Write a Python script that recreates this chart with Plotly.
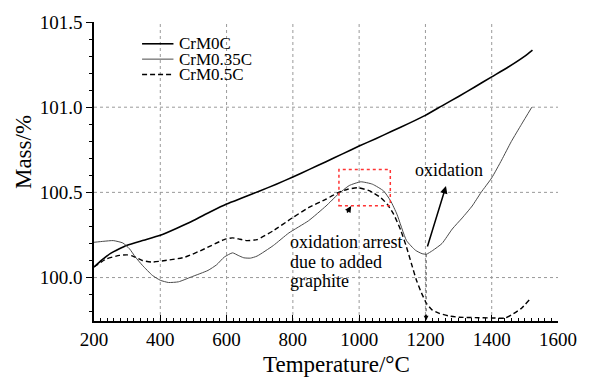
import plotly.graph_objects as go

# ---- data ----
t_0c = [200, 225, 250, 275, 300, 350, 400, 450, 500, 550, 600, 650, 700, 750, 800, 850,
        900, 950, 1000, 1050, 1100, 1150, 1200, 1250, 1300, 1350, 1400, 1450, 1500, 1523]
m_0c = [100.062, 100.105, 100.142, 100.168, 100.19, 100.219, 100.248, 100.29, 100.335,
        100.385, 100.432, 100.47, 100.508, 100.548, 100.59, 100.635, 100.68, 100.726,
        100.772, 100.815, 100.86, 100.905, 100.952, 101.008, 101.063, 101.12, 101.178,
        101.236, 101.3, 101.335]

t_035c = [200, 230, 258, 287, 307, 325, 346, 376, 400, 425, 455, 494, 544, 570, 593, 618,
          635, 652, 672, 692, 741, 788, 847, 900, 936, 970, 1005, 1040, 1074, 1095, 1114,
          1143, 1170, 1190, 1203, 1222, 1250, 1281, 1311, 1341, 1368, 1400, 1430, 1459,
          1490, 1521]
m_035c = [100.207, 100.213, 100.217, 100.203, 100.169, 100.12, 100.072, 100.013, 99.984,
          99.971, 99.975, 100.004, 100.042, 100.075, 100.12, 100.145, 100.13, 100.116,
          100.114, 100.126, 100.188, 100.262, 100.333, 100.42, 100.488, 100.54, 100.562,
          100.548, 100.508, 100.45, 100.372, 100.217, 100.16, 100.14, 100.137, 100.159,
          100.2, 100.285, 100.35, 100.42, 100.5, 100.585, 100.69, 100.798, 100.9, 101.0]

t_05c = [200, 238, 277, 300, 317, 346, 376, 415, 475, 534, 593, 618, 640, 662, 692, 741,
         798, 847, 900, 936, 965, 996, 1030, 1065, 1085, 1104, 1125, 1143, 1158, 1173,
         1188, 1203, 1220, 1242, 1270, 1301, 1350, 1400, 1439, 1459, 1490, 1513]
m_05c = [100.062, 100.11, 100.13, 100.133, 100.126, 100.1, 100.091, 100.1, 100.12, 100.169,
         100.223, 100.233, 100.225, 100.217, 100.223, 100.275, 100.35, 100.41, 100.46,
         100.498, 100.518, 100.527, 100.51, 100.469, 100.43, 100.372, 100.28, 100.178,
         100.08, 99.984, 99.91, 99.849, 99.81, 99.79, 99.775, 99.767, 99.765, 99.763,
         99.762, 99.78, 99.82, 99.868]

series_names = ["CrM0C", "CrM0.35C", "CrM0.5C"]
x_ticks = [200, 400, 600, 800, 1000, 1200, 1400, 1600]
y_ticks = [100.0, 100.5, 101.0, 101.5]
x_range = [200, 1600]
y_range = [99.745, 101.5]
box_t = [939, 1094]
box_m = [100.422, 100.634]

FONT = "Liberation Serif, Times New Roman, serif"
styles = [dict(color="black", width=1.6, dash="solid"),
          dict(color="#4a4a4a", width=1.0, dash="solid"),
          dict(color="black", width=1.4, dash="5px,3px")]

fig = go.Figure()
for (tx, my), name, st in zip([(t_0c, m_0c), (t_035c, m_035c), (t_05c, m_05c)],
                              series_names, styles):
    fig.add_trace(go.Scatter(x=tx, y=my, mode="lines", name=name,
                             line=dict(**st, shape="spline", smoothing=0.5),
                             showlegend=False))

shapes = []
# dotted grid (inner ticks only)
for xv in x_ticks[1:-1]:
    shapes.append(dict(type="line", xref="x", yref="y", x0=xv, x1=xv,
                       y0=y_range[0], y1=y_range[1], layer="below",
                       line=dict(color="#9a9a9a", width=1, dash="dot")))
for yv in y_ticks[:-1]:
    shapes.append(dict(type="line", xref="x", yref="y", x0=x_range[0], x1=x_range[1],
                       y0=yv, y1=yv, layer="below",
                       line=dict(color="#9a9a9a", width=1, dash="dot")))
# red dotted box
shapes.append(dict(type="rect", xref="x", yref="y", x0=box_t[0], x1=box_t[1],
                   y0=box_m[0], y1=box_m[1],
                   line=dict(color="#ff3333", width=1.5, dash="dot")))
# vertical dotted arrow line at 1200
shapes.append(dict(type="line", xref="x", yref="y", x0=1202, x1=1202,
                   y0=100.137, y1=99.77,
                   line=dict(color="#333333", width=1, dash="dot")))

def px2paper_x(px):
    return (px - 94) / 473.0

def px2paper_y(py):
    return (321 - py) / 302.0

# manual legend
legend_rows = [41, 56.5, 72]
annotations = []
for row, name, st in zip(legend_rows, series_names, styles):
    shapes.append(dict(type="line", xref="paper", yref="paper",
                       x0=px2paper_x(143), x1=px2paper_x(175),
                       y0=px2paper_y(row), y1=px2paper_y(row),
                       line=dict(color=st["color"], width=st["width"], dash=st["dash"])))
    annotations.append(dict(xref="paper", yref="paper", x=px2paper_x(179),
                            y=px2paper_y(row), text=name, showarrow=False,
                            xanchor="left", yanchor="middle",
                            font=dict(family=FONT, size=17, color="black")))

# text annotations
annotations.append(dict(xref="paper", yref="paper", x=px2paper_x(456), y=px2paper_y(168),
                        text="oxidation", showarrow=False, xanchor="center",
                        yanchor="middle", font=dict(family=FONT, size=18, color="black")))
for txt, py in zip(["oxidation arrest", "due to added", "graphite"], [241, 261, 281]):
    annotations.append(dict(xref="paper", yref="paper", x=px2paper_x(292), y=px2paper_y(py),
                            text=txt, showarrow=False, xanchor="left", yanchor="middle",
                            font=dict(family=FONT, size=18, color="black")))

# arrows
annotations.append(dict(xref="x", yref="y", x=1262, y=100.537, ax=-19, ay=62, text="",
                        showarrow=True, arrowhead=2, arrowsize=1, arrowwidth=1.5,
                        arrowcolor="black"))
annotations.append(dict(xref="x", yref="y", x=976, y=100.42, ax=-5, ay=8, text="",
                        showarrow=True, arrowhead=2, arrowsize=0.8, arrowwidth=1.6,
                        arrowcolor="black"))
annotations.append(dict(xref="x", yref="y", x=1202, y=99.748, ax=0, ay=-7, text="",
                        showarrow=True, arrowhead=2, arrowsize=0.8, arrowwidth=1.2,
                        arrowcolor="black"))

# axis titles
annotations.append(dict(xref="paper", yref="paper", x=px2paper_x(341), y=px2paper_y(365),
                        text="Temperature/°C", showarrow=False, xanchor="center",
                        yanchor="middle", font=dict(family=FONT, size=23, color="black")))
annotations.append(dict(xref="paper", yref="paper", x=px2paper_x(22), y=px2paper_y(150),
                        text="Mass/%", showarrow=False, xanchor="center", yanchor="middle",
                        textangle=-90, font=dict(family=FONT, size=23, color="black")))

fig.update_layout(
    width=589, height=379,
    margin=dict(l=94, r=22, t=19, b=58),
    paper_bgcolor="white", plot_bgcolor="white",
    font=dict(family=FONT, color="black"),
    shapes=shapes, annotations=annotations,
    showlegend=False,
)
fig.update_xaxes(range=x_range, tickmode="array", tickvals=x_ticks,
                 ticktext=[str(v) for v in x_ticks],
                 showgrid=False, zeroline=False, showline=True, linecolor="black",
                 linewidth=1.5, ticks="inside", ticklen=6, tickwidth=1.2, tickcolor="black",
                 minor=dict(ticks="inside", ticklen=3, tickwidth=1, dtick=20, tick0=200,
                            tickcolor="black"),
                 tickfont=dict(family=FONT, size=19, color="black"))
fig.update_yaxes(range=y_range, tickmode="array", tickvals=y_ticks,
                 ticktext=[f"{v:.1f}" for v in y_ticks],
                 showgrid=False, zeroline=False, showline=True, linecolor="black",
                 linewidth=1.5, ticks="outside", ticklen=6, tickwidth=1.2, tickcolor="black",
                 minor=dict(ticks="outside", ticklen=3, tickwidth=1, dtick=0.1, tick0=100,
                            tickcolor="black"),
                 tickfont=dict(family=FONT, size=19, color="black"))

fig.write_html("out.html")
